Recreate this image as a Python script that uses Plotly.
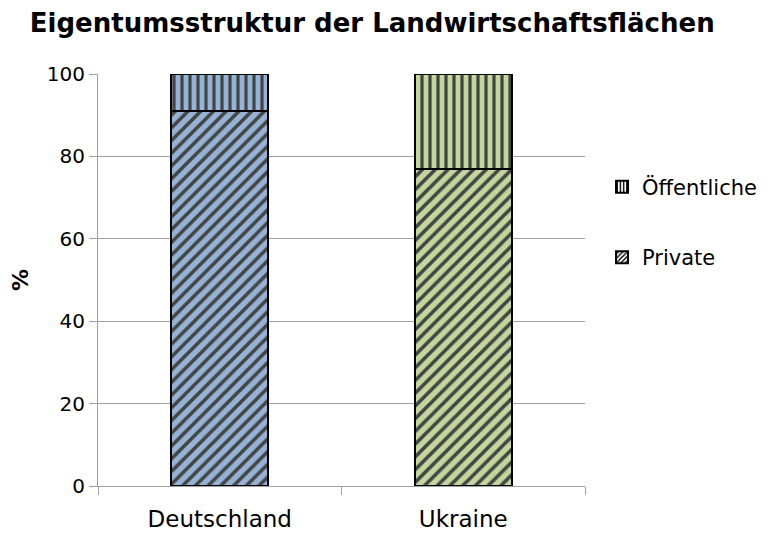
import plotly.graph_objects as go

categories = ["Deutschland", "Ukraine"]
private = [91, 77]
public = [9, 23]
bar_colors = ["#95B3D7", "#C3D69B"]
series_names = ["Private", "Öffentliche"]
y_ticks = [0, 20, 40, 60, 80, 100]

fig = go.Figure()
fig.add_trace(go.Bar(
    x=categories, y=private, name=series_names[0], showlegend=False,
    marker=dict(color=bar_colors, line=dict(color="black", width=2),
                pattern=dict(shape="/", fgcolor="black", bgcolor=bar_colors, fgopacity=1,
                             size=9, solidity=0.4)),
))
fig.add_trace(go.Bar(
    x=categories, y=public, name=series_names[1], showlegend=False,
    marker=dict(color=bar_colors, line=dict(color="black", width=2),
                pattern=dict(shape="|", fgcolor="black", bgcolor=bar_colors, fgopacity=1,
                             size=8, solidity=0.4)),
))
# legend entries (white background, black pattern)
for i, (nm, shp) in enumerate([(series_names[1], "|"), (series_names[0], "/")]):
    fig.add_trace(go.Bar(
        x=[None], y=[None], name=nm, legendgroup="g%d" % i, legendrank=i,
        marker=dict(color="white", line=dict(color="black", width=2),
                    pattern=dict(shape=shp, fgcolor="black", bgcolor="white", fgopacity=1,
                                 size=4, solidity=0.45)),
    ))

fig.update_layout(
    barmode="stack",
    bargap=0.6,
    width=779, height=533,
    margin=dict(l=90, r=202, t=66, b=55, autoexpand=False),
    paper_bgcolor="white", plot_bgcolor="white",
    font=dict(family="DejaVu Sans", size=20, color="black"),
    title=dict(text="<b>Eigentumsstruktur der Landwirtschaftsflächen</b>",
               x=0.028, xanchor="left", y=0.99, yanchor="top",
               font=dict(size=26, family="DejaVu Sans")),
    legend=dict(x=1.035, xanchor="left", y=0.775, yanchor="top",
                font=dict(size=21), tracegroupgap=40, traceorder="grouped",
                itemwidth=30),
    showlegend=True,
)
fig.update_xaxes(
    showline=True, linecolor="#A0A0A0", linewidth=1,
    ticks="outside", tickson="boundaries", ticklen=8, tickcolor="#A0A0A0",
    showgrid=False, automargin=False, tickfont=dict(size=23),
    ticklabelstandoff=12,
)
fig.update_yaxes(
    range=[0, 100], tickvals=y_ticks,
    showline=True, linecolor="#A0A0A0", linewidth=1,
    ticks="outside", ticklen=8, tickcolor="#A0A0A0",
    showgrid=True, gridcolor="#A0A0A0", gridwidth=1,
    title=dict(text="<b>%</b>", standoff=21, font=dict(size=22)),
    zeroline=False, automargin=False, tickfont=dict(size=20),
)

fig.write_html("out.html")
